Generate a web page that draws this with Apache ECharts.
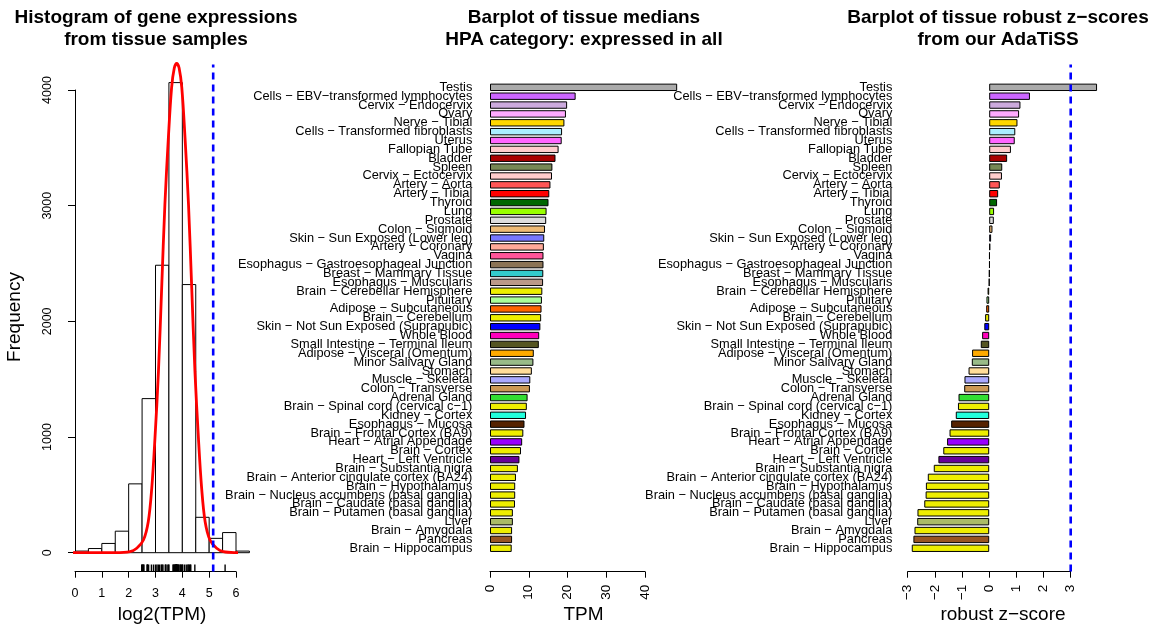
<!DOCTYPE html>
<html>
<head>
<meta charset="utf-8">
<script src="https://cdn.jsdelivr.net/npm/echarts@6/dist/echarts.min.js"></script>
<style>
  html, body { margin: 0; padding: 0; background: #ffffff; }
  #chart { width: 1151px; height: 625px; }
</style>
</head>
<body>
<div id="chart"></div>
<script>
// ---- data -------------------------------------------------------------
const tissues = [
  'Testis', 'Cells − EBV−transformed lymphocytes', 'Cervix − Endocervix', 'Ovary',
  'Nerve − Tibial', 'Cells − Transformed fibroblasts', 'Uterus', 'Fallopian Tube',
  'Bladder', 'Spleen', 'Cervix − Ectocervix', 'Artery − Aorta', 'Artery − Tibial',
  'Thyroid', 'Lung', 'Prostate', 'Colon − Sigmoid', 'Skin − Sun Exposed (Lower leg)',
  'Artery − Coronary', 'Vagina', 'Esophagus − Gastroesophageal Junction',
  'Breast − Mammary Tissue', 'Esophagus − Muscularis', 'Brain − Cerebellar Hemisphere',
  'Pituitary', 'Adipose − Subcutaneous', 'Brain − Cerebellum',
  'Skin − Not Sun Exposed (Suprapubic)', 'Whole Blood', 'Small Intestine − Terminal Ileum',
  'Adipose − Visceral (Omentum)', 'Minor Salivary Gland', 'Stomach', 'Muscle − Skeletal',
  'Colon − Transverse', 'Adrenal Gland', 'Brain − Spinal cord (cervical c−1)',
  'Kidney − Cortex', 'Esophagus − Mucosa', 'Brain − Frontal Cortex (BA9)',
  'Heart − Atrial Appendage', 'Brain − Cortex', 'Heart − Left Ventricle',
  'Brain − Substantia nigra', 'Brain − Anterior cingulate cortex (BA24)',
  'Brain − Hypothalamus', 'Brain − Nucleus accumbens (basal ganglia)',
  'Brain − Caudate (basal ganglia)', 'Brain − Putamen (basal ganglia)', 'Liver',
  'Brain − Amygdala', 'Pancreas', 'Brain − Hippocampus'
];

// median expression per tissue (TPM)
const medianTPM = [
  48.3, 22.1, 19.9, 19.6, 19.2, 18.6, 18.5, 17.7, 16.9, 16.1, 16.0, 15.6, 15.3,
  15.1, 14.6, 14.5, 14.2, 14.0, 13.9, 13.8, 13.8, 13.75, 13.7, 13.5, 13.4, 13.3,
  13.2, 13.0, 12.7, 12.6, 11.3, 11.2, 10.8, 10.4, 10.3, 9.7, 9.5, 9.3, 8.9, 8.6,
  8.3, 8.0, 7.6, 7.2, 6.7, 6.5, 6.5, 6.45, 5.9, 5.9, 5.7, 5.7, 5.6
];

// robust z-score per tissue
const robustZ = [
  3.97, 1.50, 1.15, 1.10, 1.04, 0.96, 0.94, 0.80, 0.66, 0.48, 0.47, 0.39, 0.33,
  0.29, 0.18, 0.17, 0.12, 0.07, 0.04, 0.02, 0.02, 0.01, 0.0, -0.06, -0.10, -0.11,
  -0.15, -0.18, -0.26, -0.31, -0.63, -0.64, -0.76, -0.91, -0.92, -1.13, -1.15,
  -1.23, -1.40, -1.46, -1.55, -1.69, -1.87, -2.04, -2.26, -2.33, -2.34, -2.39,
  -2.64, -2.65, -2.75, -2.79, -2.85
];

// histogram of log2(TPM) over all samples
const histBinStart = [0, 0.5, 1, 1.5, 2, 2.5, 3, 3.5, 4, 4.5, 5, 5.5, 6];
const histBinWidth = 0.5;
const histCounts = [14, 36, 80, 186, 595, 1332, 2485, 4064, 2318, 306, 124, 174, 14];

// fitted density curve, scaled to counts
const fitX = [-0.26, 1.5, 2.05, 2.30, 2.55, 2.73, 2.86, 2.98, 3.11, 3.23, 3.35, 3.48,
  3.60, 3.70, 3.79, 3.88, 3.98, 4.10, 4.23, 4.35, 4.47, 4.60, 4.72, 4.85, 5.03, 5.28,
  5.53, 6.0, 6.76];
const fitY = [0, 0, 9, 38, 110, 268, 557, 990, 1567, 2289, 3010, 3588,
  4021, 4190, 4230, 4190, 4021, 3588, 3010, 2289, 1567, 990, 557, 268, 110, 38,
  9, 1, 0];

const thresholdLog2 = 5.15;   // cut-off on the log2(TPM) scale
const thresholdZ = 3;         // cut-off on the robust z-score scale

// ---- styles -----------------------------------------------------------
const tissueColors = [
  '#AAAAAA', '#CC66FF', '#CCAADD', '#FFAAFF', '#FFD700', '#AAEEFF', '#FF66FF',
  '#FFCCCC', '#AA0000', '#778855', '#FFCCCC', '#FF5555', '#FF0000', '#006600',
  '#99FF00', '#DDDDDD', '#EEBB77', '#7777FF', '#FFAA99', '#FF5599', '#8B7355',
  '#33CCCC', '#BB9988', '#EEEE00', '#AAFF99', '#FF6600', '#EEEE00', '#0000FF',
  '#FF00BB', '#555522', '#FFAA00', '#99BB88', '#FFDD99', '#AAAAFF', '#CC9955',
  '#33DD33', '#EEEE00', '#22FFDD', '#552200', '#EEEE00', '#9900FF', '#EEEE00',
  '#660099', '#EEEE00', '#EEEE00', '#EEEE00', '#EEEE00', '#EEEE00', '#EEEE00',
  '#AABB66', '#EEEE00', '#995522', '#EEEE00'
];

const FONT = '"Liberation Sans", Arial, Helvetica, sans-serif';
const black = '#000000';

function titleBlock(text, centerX) {
  return {
    text: text, left: centerX, top: 7, textAlign: 'center', padding: 0,
    textStyle: { fontFamily: FONT, fontSize: 19, fontWeight: 'bold', lineHeight: 22, color: black }
  };
}

// axis titles, centred on each panel's plotting region
function axisTitle(text, x, y, rotation) {
  return {
    type: 'text', x: x, y: y, rotation: rotation || 0, silent: true,
    style: { text: text, fill: black, font: '19px ' + FONT, align: 'center', verticalAlign: 'middle' }
  };
}

function valueXAxis(gridIndex, min, max, interval, labelOpts) {
  return Object.assign({
    type: 'value', gridIndex: gridIndex, min: min, max: max, interval: interval,
    offset: 19, splitLine: { show: false },
    axisLine: { show: true, onZero: false, lineStyle: { color: black, width: 1 } },
    axisTick: { show: true, length: 6, lineStyle: { color: black, width: 1 } }
  }, labelOpts);
}

function categoryYAxis(gridIndex, margin) {
  return {
    type: 'category', gridIndex: gridIndex, data: tissues, inverse: true,
    axisLine: { show: false }, axisTick: { show: false }, splitLine: { show: false },
    axisLabel: { interval: 0, margin: margin, fontFamily: FONT, fontSize: 12.8, color: black }
  };
}

function hiddenAxis(gridIndex, min, max) {
  return { type: 'value', gridIndex: gridIndex, min: min, max: max, show: false, splitLine: { show: false } };
}

const plainNumber = v => String(v).replace('-', '−');

const option = {
  animation: false,
  backgroundColor: '#ffffff',
  title: [
    titleBlock('Histogram of gene expressions\nfrom tissue samples', 156),
    titleBlock('Barplot of tissue medians\nHPA category: expressed in all', 584),
    titleBlock('Barplot of tissue robust z−scores\nfrom our AdaTiSS', 998)
  ],
  graphic: [
    axisTitle('log2(TPM)', 162, 615),
    axisTitle('TPM', 583.5, 615),
    axisTitle('robust z−score', 1003, 615),
    axisTitle('Frequency', 15, 317, Math.PI / 2)
  ],
  grid: [
    { left: 75, right: 915, top: 90, bottom: 72.3 },        // histogram
    { left: 490, right: 506, top: 82.9, bottom: 72.3 },     // medians
    { left: 907.7, right: 80.3, top: 82.9, bottom: 72.3 },  // z-scores
    { left: 75, right: 915, top: 64.5, bottom: 53.5 },      // histogram plot region
    { left: 907.7, right: 80.3, top: 64.5, bottom: 53.5 }   // z-score plot region
  ],
  xAxis: [
    valueXAxis(0, 0, 6, 1, {
      axisLabel: { margin: 15, fontFamily: FONT, fontSize: 12.5, color: black, formatter: plainNumber }
    }),
    valueXAxis(1, 0, 40, 10, {
      axisLabel: { rotate: 90, margin: 13, fontFamily: FONT, fontSize: 13.5, color: black, formatter: plainNumber }
    }),
    valueXAxis(2, -3, 3, 1, {
      axisLabel: { rotate: 90, margin: 13, fontFamily: FONT, fontSize: 13.5, color: black, formatter: plainNumber }
    }),
    hiddenAxis(3, 0, 6),
    hiddenAxis(4, -3, 3)
  ],
  yAxis: [
    {
      type: 'value', gridIndex: 0, min: 0, max: 4000, interval: 1000, offset: 6.7,
      splitLine: { show: false },
      axisLine: { show: true, lineStyle: { color: black, width: 1 } },
      axisTick: { show: true, length: 7, lineStyle: { color: black, width: 1 } },
      axisLabel: { rotate: 90, margin: 14, fontFamily: FONT, fontSize: 12.5, color: black, formatter: plainNumber }
    },
    categoryYAxis(1, 17.7),
    categoryYAxis(2, 15.4),
    hiddenAxis(3, 0, 1),
    hiddenAxis(4, 0, 1)
  ],
  series: [
    {
      // histogram bins
      type: 'custom', xAxisIndex: 0, yAxisIndex: 0, z: 2,
      data: histBinStart.map((s, i) => [s, s + histBinWidth, histCounts[i]]),
      renderItem: function (params, api) {
        const topLeft = api.coord([api.value(0), api.value(2)]);
        const bottomRight = api.coord([api.value(1), 0]);
        return {
          type: 'rect',
          shape: { x: topLeft[0], y: topLeft[1], width: bottomRight[0] - topLeft[0], height: bottomRight[1] - topLeft[1] },
          style: { fill: '#ffffff', stroke: black, lineWidth: 1 }
        };
      }
    },
    {
      // fitted curve
      type: 'line', xAxisIndex: 0, yAxisIndex: 0, z: 4, clip: false,
      data: fitX.map((x, i) => [x, fitY[i]]),
      smooth: 0.35, showSymbol: false, symbol: 'none',
      lineStyle: { color: '#FF0000', width: 2.8 }
    },
    {
      // rug of tissue medians on the log2 scale
      type: 'custom', xAxisIndex: 3, yAxisIndex: 3, z: 3,
      data: medianTPM.map(v => [Math.log2(v), 0]),
      renderItem: function (params, api) {
        const p = api.coord([api.value(0), api.value(1)]);
        return {
          type: 'line',
          shape: { x1: p[0], y1: p[1], x2: p[0], y2: p[1] - 7 },
          style: { stroke: black, lineWidth: 1.4 }
        };
      }
    },
    {
      // threshold on the histogram
      type: 'line', xAxisIndex: 3, yAxisIndex: 3, z: 5, clip: false,
      data: [[thresholdLog2, 0], [thresholdLog2, 1]],
      symbol: 'none', lineStyle: { color: '#0000FF', width: 2.6, type: [7, 5] }
    },
    {
      // tissue medians
      type: 'bar', xAxisIndex: 1, yAxisIndex: 1, clip: false, barCategoryGap: '16.7%',
      data: medianTPM.map((v, i) => ({ value: v, itemStyle: { color: tissueColors[i] } })),
      itemStyle: { borderColor: black, borderWidth: 1 }
    },
    {
      // robust z-scores
      type: 'bar', xAxisIndex: 2, yAxisIndex: 2, clip: false, barCategoryGap: '16.7%',
      data: robustZ.map((v, i) => ({ value: v, itemStyle: { color: tissueColors[i] } })),
      itemStyle: { borderColor: black, borderWidth: 1 }
    },
    {
      // threshold on the z-score panel
      type: 'line', xAxisIndex: 4, yAxisIndex: 4, z: 5, clip: false,
      data: [[thresholdZ, 0], [thresholdZ, 1]],
      symbol: 'none', lineStyle: { color: '#0000FF', width: 2.6, type: [7, 5] }
    }
  ]
};

const chart = echarts.init(document.getElementById('chart'), null, { renderer: 'canvas' });
chart.setOption(option);
</script>
</body>
</html>
